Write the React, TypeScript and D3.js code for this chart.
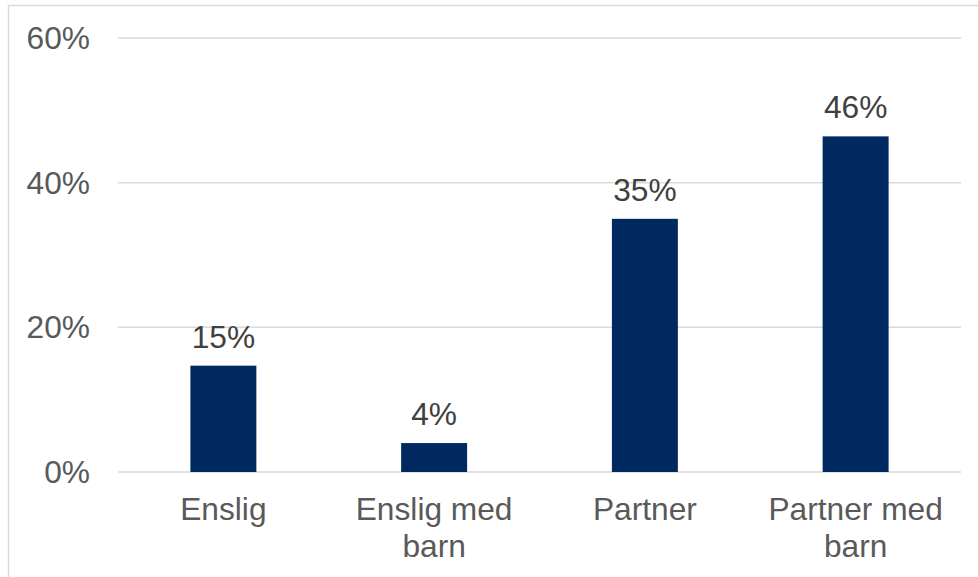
import React from "react";
import * as d3 from "d3";

const categories: string[][] = [["Enslig"], ["Enslig med", "barn"], ["Partner"], ["Partner med", "barn"]];
const values: number[] = [14.7, 4.0, 35.0, 46.4];
const valueLabels: string[] = ["15%", "4%", "35%", "46%"];
const yTicks: number[] = [0, 20, 40, 60];

export default function App() {
  const W = 978, H = 577;
  const left = 118, right = 961, top = 38, bottom = 472;
  const x = d3.scaleBand<number>().domain(d3.range(categories.length)).range([left, right]).padding(0);
  const y = d3.scaleLinear().domain([0, 60]).range([bottom, top]);
  const barW = x.bandwidth() * 0.313;
  const font = "'Liberation Sans', Arial, sans-serif";
  const fs = 31.7;
  return (
    <svg width={W} height={H} style={{ position: "absolute", left: 0, top: 0, background: "#fff" }}>
      <rect x={8.5} y={5.5} width={1000} height={700} fill="#fff" stroke="#d9d9d9" strokeWidth={1.5} />
      {yTicks.map((t) => (
        <g key={t}>
          <line x1={left} x2={right} y1={y(t)} y2={y(t)} stroke="#d9d9d9" strokeWidth={1.5} />
          <text x={90} y={y(t)} dy="0.35em" textAnchor="end" fontFamily={font} fontSize={fs} fill="#595959">
            {t}%
          </text>
        </g>
      ))}
      {values.map((v, i) => {
        const cx = (x(i) as number) + x.bandwidth() / 2;
        return (
          <g key={i}>
            <rect x={cx - barW / 2} y={y(v)} width={barW} height={y(0) - y(v)} fill="#002960" />
            <text x={cx} y={y(v) - 18} textAnchor="middle" fontFamily={font} fontSize={fs} fill="#404040">
              {valueLabels[i]}
            </text>
            {categories[i].map((line, j) => (
              <text key={j} x={cx} y={520 + j * 36.5} textAnchor="middle" fontFamily={font} fontSize={fs} fill="#595959">
                {line}
              </text>
            ))}
          </g>
        );
      })}
    </svg>
  );
}
